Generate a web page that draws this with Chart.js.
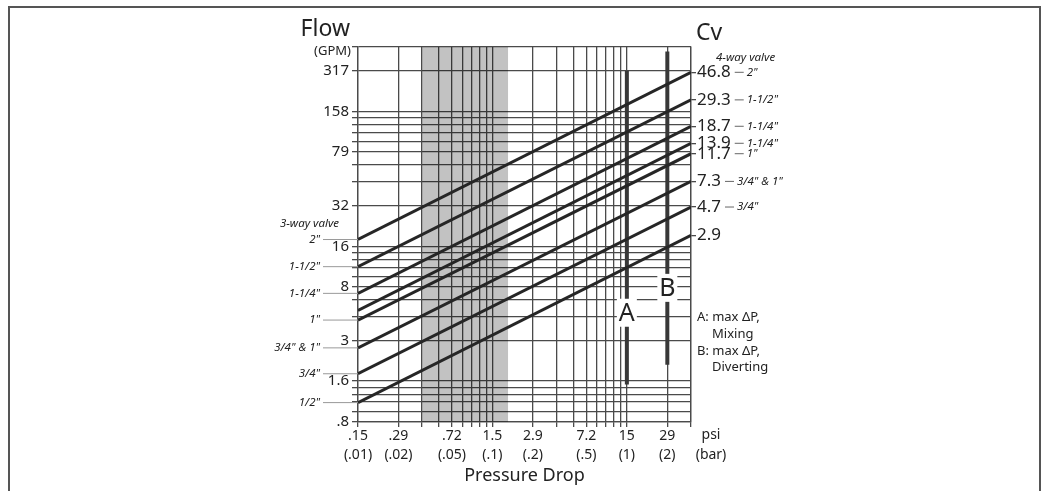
<!DOCTYPE html>
<html>
<head>
<meta charset="utf-8">
<script src="https://cdn.jsdelivr.net/npm/chart.js@4.4.0/dist/chart.umd.min.js"></script>
<style>
  html, body { margin: 0; padding: 0; background: #fff; }
  #wrap { position: relative; width: 1044px; height: 491px; }
  #frame { position: absolute; left: 8px; top: 6px; width: 1029px; height: 500px;
           border: 2px solid #555; pointer-events: none; }
</style>
</head>
<body>
<div id="wrap">
  <canvas id="chart-nomograph"></canvas>
  <div id="frame"></div>
</div>
<script>
// Cv of each valve line and the flow (GPM) where it meets the left and right edges
const cvValues = ['2.9', '4.7', '7.3', '11.7', '13.9', '18.7', '29.3', '46.8'];
const flowAtLeft = [1.1, 1.8, 2.8, 4.5, 5.3, 7.1, 11.2, 17.8];
const flowAtRight = [19.1, 31, 48, 77, 92, 123, 193, 309];
const threeWaySizes = ['1/2"', '3/4"', '3/4" & 1"', '1"', '', '1-1/4"', '1-1/2"', '2"'];
const fourWaySizes = ['', '3/4"', '3/4" & 1"', '1"', '1-1/4"', '1-1/4"', '1-1/2"', '2"'];

// pressure drop axis (psi), gridlines every bar step
const pressureGrid = [0.145, 0.29, 0.435, 0.58, 0.725, 0.87, 1.015, 1.16, 1.305, 1.45,
  2.9, 4.35, 5.8, 7.25, 8.7, 10.15, 11.6, 13.05, 14.5, 29, 43.5];
const psiLabels = ['.15', '.29', '', '', '.72', '', '', '', '', '1.5',
  '2.9', '', '', '7.2', '', '', '', '', '15', '29', ''];
const barLabels = ['(.01)', '(.02)', '', '', '(.05)', '', '', '', '', '(.1)',
  '(.2)', '', '', '(.5)', '', '', '', '', '(1)', '(2)', ''];

// flow axis (GPM)
const flowGrid = [0.79, 0.95, 1.11, 1.27, 1.43, 1.59, 3.17, 4.76, 6.34, 7.93, 9.51, 11.1, 12.7, 14.3,
  15.85, 31.7, 47.6, 63.4, 79.3, 95.1, 111, 127, 143, 158.5, 317, 476];
const flowLabels = ['.8', '', '', '', '', '1.6', '3', '', '', '8', '', '', '', '',
  '16', '32', '', '', '79', '', '', '', '', '158', '317', ''];

// shaded band (psi) and the two max pressure drop markers
const bandPsi = [0.435, 1.9];
const markerA = { psi: 14.5, top: 317, bottom: 1.5, label: 5.1 };
const markerB = { psi: 29, top: 440, bottom: 2.1, label: 7.8 };

const FONT = "'Noto Sans', 'Open Sans', sans-serif";
const INK = '#222';
const GRID = '#4a4a4a';

const annotations = {
  id: 'annotations',
  afterDraw(chart) {
    const { ctx } = chart;
    const x = chart.scales.x, y = chart.scales.y;
    ctx.save();
    ctx.fillStyle = INK;
    ctx.textBaseline = 'middle';

    // axis headings
    ctx.font = '23px ' + FONT;
    ctx.textAlign = 'right';
    ctx.fillText('Flow', 350, 29);
    ctx.font = '13px ' + FONT;
    ctx.fillText('(GPM)', 351, 51);
    ctx.font = '23px ' + FONT;
    ctx.textAlign = 'left';
    ctx.fillText('Cv', 696, 33);
    ctx.font = 'italic 11.5px ' + FONT;
    ctx.fillText('4-way valve', 716, 58);
    ctx.textAlign = 'right';
    ctx.fillText('3-way valve', 339, 224);

    // 3-way sizes on the left, with leader lines to the axis
    threeWaySizes.forEach((s, i) => {
      if (!s) return;
      const py = y.getPixelForValue(flowAtLeft[i]);
      ctx.fillStyle = INK;
      ctx.fillText(s, 320, py);
      ctx.strokeStyle = '#999';
      ctx.lineWidth = 1;
      ctx.beginPath();
      ctx.moveTo(323, py);
      ctx.lineTo(x.left, py);
      ctx.stroke();
    });

    // 4-way sizes on the right, after the Cv numbers
    ctx.textAlign = 'left';
    fourWaySizes.forEach((s, i) => {
      if (!s) return;
      const py = y.getPixelForValue(flowAtRight[i]);
      ctx.font = '17px ' + FONT;
      const w = ctx.measureText(cvValues[i]).width;
      const x0 = 697 + w + 4;
      ctx.strokeStyle = '#666';
      ctx.lineWidth = 1;
      ctx.beginPath();
      ctx.moveTo(x0, py);
      ctx.lineTo(x0 + 9, py);
      ctx.stroke();
      ctx.font = 'italic 11.5px ' + FONT;
      ctx.fillText(s, x0 + 12, py);
    });

    // A / B markers
    [[markerA, 'A'], [markerB, 'B']].forEach(([m, t]) => {
      const px = x.getPixelForValue(m.psi);
      const py = y.getPixelForValue(m.label);
      ctx.fillStyle = '#fff';
      ctx.fillRect(px - 10, py - 14, 20, 28);
      ctx.fillStyle = INK;
      ctx.font = '25px ' + FONT;
      ctx.textAlign = 'center';
      ctx.fillText(t, px, py + 1);
    });

    // notes
    ctx.font = '13px ' + FONT;
    ctx.textAlign = 'left';
    ctx.fillText('A: max \u0394P,', 697, 317);
    ctx.fillText('Mixing', 712, 334);
    ctx.fillText('B: max \u0394P,', 697, 351);
    ctx.fillText('Diverting', 712, 367);

    // units under the x axis
    ctx.font = '14px ' + FONT;
    ctx.textAlign = 'center';
    ctx.fillText('psi', 711, 435);
    ctx.fillText('(bar)', 711, 455);
    ctx.restore();
  }
};

const datasets = [];
datasets.push({
  data: [{ x: bandPsi[0], y: 476 }, { x: bandPsi[1], y: 476 }],
  fill: 'start',
  backgroundColor: 'rgba(0,0,0,0.24)',
  borderWidth: 0,
  pointRadius: 0,
  order: 10
});
cvValues.forEach((cv, i) => {
  datasets.push({
    label: cv,
    data: [{ x: pressureGrid[0], y: flowAtLeft[i] }, { x: pressureGrid[pressureGrid.length - 1], y: flowAtRight[i] }],
    borderColor: '#262626',
    borderWidth: 3,
    pointRadius: 0
  });
});
[markerA, markerB].forEach(m => {
  datasets.push({
    data: [{ x: m.psi, y: m.top }, { x: m.psi, y: m.bottom }],
    borderColor: '#383838',
    borderWidth: 4,
    borderCapStyle: 'butt',
    pointRadius: 0
  });
});

const tickFont = { family: FONT, size: 15 };

new Chart(document.getElementById('chart-nomograph'), {
  type: 'line',
  data: { datasets },
  options: {
    responsive: true,
    maintainAspectRatio: false,
    animation: false,
    events: [],
    layout: { padding: { left: 0, right: 0, top: 47, bottom: 2 } },
    plugins: { legend: { display: false }, tooltip: { enabled: false } },
    scales: {
      x: {
        type: 'logarithmic',
        min: pressureGrid[0],
        max: pressureGrid[pressureGrid.length - 1],
        afterBuildTicks: axis => { axis.ticks = pressureGrid.map(v => ({ value: v })); },
        afterFit: axis => { axis.height = 67; },
        ticks: {
          autoSkip: false,
          maxRotation: 0,
          padding: 0,
          color: INK,
          font: { family: FONT, size: 14, lineHeight: 1.35 },
          callback: (v, i) => psiLabels[i] ? [psiLabels[i], barLabels[i]] : ''
        },
        grid: { color: GRID, lineWidth: 1.3, tickLength: 5 },
        border: { color: GRID, width: 1.3 },
        title: {
          display: true,
          text: 'Pressure Drop',
          color: INK,
          font: { family: FONT, size: 18 },
          padding: { top: 0, bottom: 2 }
        }
      },
      y: {
        type: 'logarithmic',
        min: flowGrid[0],
        max: flowGrid[flowGrid.length - 1],
        afterBuildTicks: axis => { axis.ticks = flowGrid.map(v => ({ value: v })); },
        afterFit: axis => { axis.width = 358; },
        ticks: {
          autoSkip: false,
          padding: 3,
          color: INK,
          font: tickFont,
          callback: (v, i) => flowLabels[i]
        },
        grid: { color: GRID, lineWidth: 1.3, tickLength: 6 },
        border: { color: GRID, width: 1.3 }
      },
      y2: {
        type: 'logarithmic',
        position: 'right',
        min: flowGrid[0],
        max: flowGrid[flowGrid.length - 1],
        afterBuildTicks: axis => { axis.ticks = flowAtRight.map(v => ({ value: v })); },
        afterFit: axis => { axis.width = 353; },
        ticks: {
          autoSkip: false,
          padding: 1,
          color: INK,
          font: { family: FONT, size: 17 },
          callback: (v, i) => cvValues[i]
        },
        grid: { drawOnChartArea: false, color: GRID, lineWidth: 1.3, tickLength: 5 },
        border: { color: GRID, width: 1.3 }
      }
    }
  },
  plugins: [annotations]
});
</script>
</body>
</html>
